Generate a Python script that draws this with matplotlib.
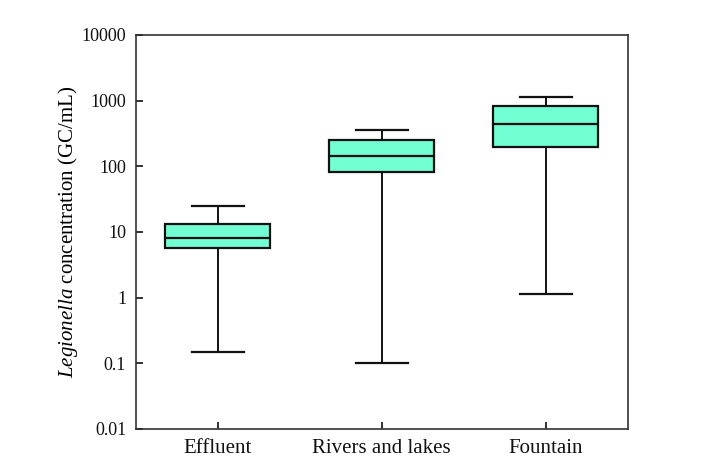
import matplotlib
matplotlib.use("Agg")
import matplotlib.pyplot as plt

plt.rcParams['font.family'] = ['Liberation Serif', 'DejaVu Serif']
plt.rcParams['mathtext.fontset'] = 'custom'
plt.rcParams['mathtext.rm'] = 'Liberation Serif'
plt.rcParams['mathtext.it'] = 'Liberation Serif:italic'

categories = ['Effluent', 'Rivers and lakes', 'Fountain']
whisker_low = [0.15, 0.1, 1.15]
q1 = [5.8, 82, 195]
median = [8.1, 145, 446]
q3 = [13.4, 249, 829]
whisker_high = [25, 354, 1150]
ytick_values = [0.01, 0.1, 1, 10, 100, 1000, 10000]
ytick_labels = ['0.01', '0.1', '1', '10', '100', '1000', '10000']

stats = []
for i, name in enumerate(categories):
    stats.append(dict(label=name, whislo=whisker_low[i], q1=q1[i], med=median[i],
                      q3=q3[i], whishi=whisker_high[i], fliers=[]))

fig = plt.figure(figsize=(7.15, 4.66), dpi=100)
ax = fig.add_axes([0.19, 0.0794, 0.688, 0.8455])

ax.bxp(stats, positions=[1, 2, 3], widths=0.64, patch_artist=True, showfliers=False,
       boxprops=dict(facecolor='#72FFD3', edgecolor='#111111', linewidth=1.6),
       medianprops=dict(color='#111111', linewidth=1.6),
       whiskerprops=dict(color='#111111', linewidth=1.4),
       capprops=dict(color='#111111', linewidth=1.6),
       capwidths=0.32)

ax.set_yscale('log')
ax.set_ylim(0.01, 10000)
ax.set_xlim(0.5, 3.5)
ax.set_yticks(ytick_values)
ax.set_yticklabels(ytick_labels)
ax.yaxis.set_minor_locator(matplotlib.ticker.NullLocator())
ax.set_xticks([1, 2, 3])
ax.set_xticklabels(categories)

ax.tick_params(axis='both', direction='in', length=5, width=1.2,
               colors='#111111')
ax.tick_params(axis='y', labelsize=13, pad=7)
ax.tick_params(axis='x', labelsize=15, pad=7)
for s in ax.spines.values():
    s.set_linewidth(1.2)
    s.set_color('#333333')

ax.set_ylabel(r'$\it{Legionella}$ concentration (GC/mL)', fontsize=15, labelpad=1)

fig.savefig('out.png', dpi=100, facecolor='white')
